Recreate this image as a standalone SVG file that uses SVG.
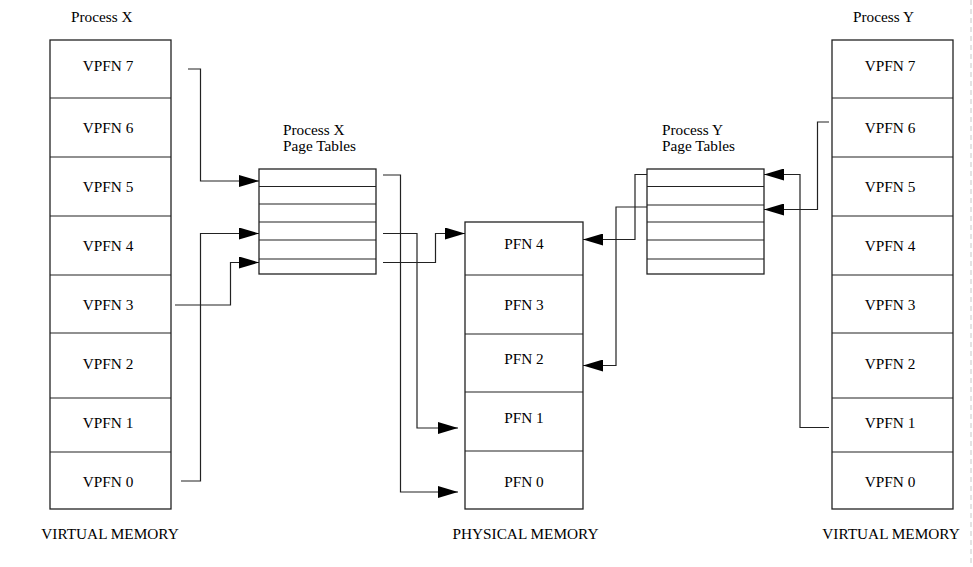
<svg xmlns="http://www.w3.org/2000/svg" width="973" height="567" viewBox="0 0 973 567">
<style>
text{font-family:"Liberation Serif","Times New Roman",serif;font-size:15.3px;fill:#000}
.box{fill:#fff;stroke:#222;stroke-width:1.3}
.div{stroke:#222;stroke-width:1.2}
.c{fill:none;stroke:#222;stroke-width:1.2}
.m{text-anchor:middle}
</style>
<defs>
<marker id="ah" markerUnits="userSpaceOnUse" markerWidth="20" markerHeight="12" refX="20" refY="6" orient="auto">
<path d="M0,0 L20,6 L0,12 z" fill="#000"/>
</marker>
</defs>
<rect width="973" height="567" fill="#fff"/>
<line x1="971" y1="0" x2="971" y2="567" stroke="#c8c8c8" stroke-width="1" stroke-dasharray="5,4"/>

<g id="vmX">
<text x="71" y="22">Process X</text>
<rect class="box" x="50" y="40" width="121" height="469"/>
<line class="div" x1="50" y1="98" x2="171" y2="98"/>
<line class="div" x1="50" y1="157" x2="171" y2="157"/>
<line class="div" x1="50" y1="216" x2="171" y2="216"/>
<line class="div" x1="50" y1="275" x2="171" y2="275"/>
<line class="div" x1="50" y1="333" x2="171" y2="333"/>
<line class="div" x1="50" y1="398" x2="171" y2="398"/>
<line class="div" x1="50" y1="452" x2="171" y2="452"/>
<text class="m" x="108" y="71">VPFN 7</text>
<text class="m" x="108" y="133">VPFN 6</text>
<text class="m" x="108" y="192">VPFN 5</text>
<text class="m" x="108" y="251">VPFN 4</text>
<text class="m" x="108" y="310">VPFN 3</text>
<text class="m" x="108" y="369">VPFN 2</text>
<text class="m" x="108" y="428">VPFN 1</text>
<text class="m" x="108" y="487">VPFN 0</text>
<text class="m" x="110" y="538.5">VIRTUAL MEMORY</text>
</g>

<g id="ptX">
<text x="283" y="135">Process X</text>
<text x="283" y="151">Page Tables</text>
<rect class="box" x="259" y="169" width="117" height="105"/>
<line class="div" x1="259" y1="186.5" x2="376" y2="186.5"/>
<line class="div" x1="259" y1="204" x2="376" y2="204"/>
<line class="div" x1="259" y1="222" x2="376" y2="222"/>
<line class="div" x1="259" y1="240" x2="376" y2="240"/>
<line class="div" x1="259" y1="259" x2="376" y2="259"/>
</g>

<g id="pm">
<rect class="box" x="465" y="222" width="118" height="287"/>
<line class="div" x1="465" y1="275" x2="583" y2="275"/>
<line class="div" x1="465" y1="334" x2="583" y2="334"/>
<line class="div" x1="465" y1="392" x2="583" y2="392"/>
<line class="div" x1="465" y1="451" x2="583" y2="451"/>
<text class="m" x="524" y="249">PFN 4</text>
<text class="m" x="524" y="310">PFN 3</text>
<text class="m" x="524" y="364">PFN 2</text>
<text class="m" x="524" y="423">PFN 1</text>
<text class="m" x="524" y="487">PFN 0</text>
<text class="m" x="525.5" y="538.5">PHYSICAL MEMORY</text>
</g>

<g id="ptY">
<text x="662" y="135">Process Y</text>
<text x="662" y="151">Page Tables</text>
<rect class="box" x="647" y="169" width="117" height="105"/>
<line class="div" x1="647" y1="186.5" x2="764" y2="186.5"/>
<line class="div" x1="647" y1="205" x2="764" y2="205"/>
<line class="div" x1="647" y1="222" x2="764" y2="222"/>
<line class="div" x1="647" y1="240" x2="764" y2="240"/>
<line class="div" x1="647" y1="259" x2="764" y2="259"/>
</g>

<g id="vmY">
<text x="853" y="22">Process Y</text>
<rect class="box" x="832" y="40" width="121" height="469"/>
<line class="div" x1="832" y1="98" x2="953" y2="98"/>
<line class="div" x1="832" y1="157" x2="953" y2="157"/>
<line class="div" x1="832" y1="216" x2="953" y2="216"/>
<line class="div" x1="832" y1="275" x2="953" y2="275"/>
<line class="div" x1="832" y1="333" x2="953" y2="333"/>
<line class="div" x1="832" y1="398" x2="953" y2="398"/>
<line class="div" x1="832" y1="452" x2="953" y2="452"/>
<text class="m" x="890" y="71">VPFN 7</text>
<text class="m" x="890" y="133">VPFN 6</text>
<text class="m" x="890" y="192">VPFN 5</text>
<text class="m" x="890" y="251">VPFN 4</text>
<text class="m" x="890" y="310">VPFN 3</text>
<text class="m" x="890" y="369">VPFN 2</text>
<text class="m" x="890" y="428">VPFN 1</text>
<text class="m" x="890" y="487">VPFN 0</text>
<text class="m" x="891" y="538.5">VIRTUAL MEMORY</text>
</g>

<g id="connectors">
<polyline class="c" points="188,69 200.5,69 200.5,181 259,181" marker-end="url(#ah)"/>
<polyline class="c" points="181,481 200.5,481 200.5,233.5 259,233.5" marker-end="url(#ah)"/>
<polyline class="c" points="175,305 230.5,305 230.5,262.5 259,262.5" marker-end="url(#ah)"/>
<polyline class="c" points="383,175 400.5,175 400.5,492 458,492" marker-end="url(#ah)"/>
<polyline class="c" points="383,233.5 417,233.5 417,428 458,428" marker-end="url(#ah)"/>
<polyline class="c" points="383,262.5 435.5,262.5 435.5,233.5 465,233.5" marker-end="url(#ah)"/>
<polyline class="c" points="829,122 817.5,122 817.5,209.5 764,209.5" marker-end="url(#ah)"/>
<polyline class="c" points="829,427.5 800,427.5 800,174.5 764,174.5" marker-end="url(#ah)"/>
<polyline class="c" points="647,174.5 635,174.5 635,239.5 583,239.5" marker-end="url(#ah)"/>
<polyline class="c" points="647,207 616,207 616,365.5 583,365.5" marker-end="url(#ah)"/>
</g>
</svg>
